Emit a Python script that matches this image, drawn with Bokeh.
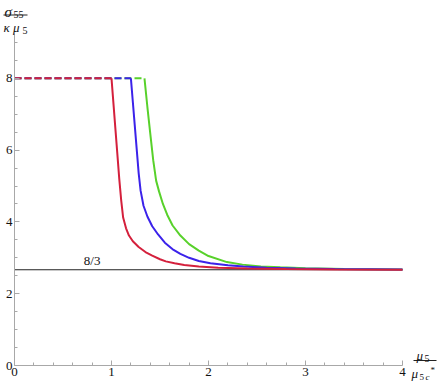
from bokeh.plotting import figure
from bokeh.models import Range1d, LinearAxis, FixedTicker, Label
from bokeh.embed import file_html
from bokeh.resources import INLINE

# ---------------- data ----------------
red_x = [1.00, 1.02, 1.04, 1.06, 1.08, 1.10, 1.12, 1.15, 1.18, 1.22, 1.28, 1.35, 1.42,
         1.50, 1.56, 1.65, 1.75, 1.90, 2.10, 2.40, 2.80, 3.30, 4.00]
red_y = [8.00, 7.30, 6.60, 5.90, 5.20, 4.60, 4.12, 3.82, 3.62, 3.46, 3.30, 3.16, 3.06,
         2.96, 2.90, 2.85, 2.80, 2.76, 2.72, 2.70, 2.685, 2.675, 2.67]

blue_x = [1.20, 1.22, 1.24, 1.26, 1.28, 1.30, 1.33, 1.37, 1.42, 1.48, 1.55, 1.64, 1.71,
          1.80, 1.90, 2.02, 2.20, 2.36, 2.60, 2.90, 3.30, 4.00]
blue_y = [8.00, 7.34, 6.68, 6.02, 5.36, 4.87, 4.45, 4.15, 3.88, 3.65, 3.42, 3.22, 3.11,
          3.00, 2.91, 2.85, 2.79, 2.76, 2.72, 2.70, 2.685, 2.675]

green_x = [1.34, 1.37, 1.40, 1.43, 1.46, 1.49, 1.53, 1.574, 1.63, 1.71, 1.80, 1.90, 2.00,
           2.19, 2.35, 2.54, 2.74, 3.00, 3.40, 4.00]
green_y = [8.00, 7.20, 6.45, 5.72, 5.15, 4.85, 4.50, 4.20, 3.90, 3.62, 3.38, 3.20, 3.05,
           2.88, 2.81, 2.76, 2.735, 2.71, 2.69, 2.675]

plateau = 8.0            # constant value below the critical point (dashed)
plateau_start = 0.0
asymptote = 8.0 / 3.0    # large-x limit
asym_label = "8/3"

x_ticks = [0, 1, 2, 3, 4]
y_ticks = [0, 2, 4, 6, 8]
x_minor = [0.2 * i for i in range(1, 21) if i % 5 != 0]
y_minor = [0.5 * i for i in range(1, 19) if i % 4 != 0]

RED, BLUE, GREEN = "#d4203c", "#3b22ea", "#58d12b"

# ---------------- geometry ----------------
W, H = 441, 384
SX0, KX = 14.0, 97.0      # screen x of data 0, px per unit
SY0, KY = 365.0, 35.9     # screen y of data 0, px per unit

def dx(sx):
    return (sx - SX0) / KX

def dy(sy):
    return (SY0 - sy) / KY

p = figure(width=W, height=H, output_backend="svg", toolbar_location=None,
           x_range=Range1d(dx(0), dx(W)), y_range=Range1d(dy(H), dy(0)),
           x_axis_location=None, y_axis_location=None, min_border=0)
p.outline_line_color = None
p.grid.visible = False
p.background_fill_color = "white"
p.border_fill_color = "white"

def style_axis(ax):
    ax.axis_line_color = "#a8a8a8"
    ax.major_tick_line_color = "#a8a8a8"
    ax.minor_tick_line_color = "#a8a8a8"
    ax.major_tick_in = 5
    ax.major_tick_out = 0
    ax.minor_tick_in = 3
    ax.minor_tick_out = 0
    ax.major_label_text_font = "Liberation Serif"
    ax.major_label_text_font_size = "13px"
    ax.major_label_text_color = "#111111"
    ax.major_label_standoff = 2

xaxis = LinearAxis(fixed_location=0, bounds=(0, 4),
                   ticker=FixedTicker(ticks=x_ticks, minor_ticks=x_minor))
style_axis(xaxis)
p.add_layout(xaxis, "below")

yaxis = LinearAxis(fixed_location=0, bounds=(0, 9.25),
                   ticker=FixedTicker(ticks=y_ticks, minor_ticks=y_minor))
style_axis(yaxis)
p.add_layout(yaxis, "left")

# asymptote line
p.line([0, 4], [asymptote, asymptote], line_color="#222222", line_width=1.2)
p.add_layout(Label(x=0.8, y=asymptote + 0.06, text=asym_label, text_align="center",
                   text_baseline="bottom", text_font="Liberation Serif",
                   text_font_size="13px", text_color="#111111"))

# dashed plateaus (green under blue under red)
for start, col in [(green_x[0], GREEN), (blue_x[0], BLUE), (red_x[0], RED)]:
    p.line([plateau_start, start], [plateau, plateau], line_color=col, line_width=2,
           line_dash="7 3")

# curves
for xs, ys, col in [(green_x, green_y, GREEN), (blue_x, blue_y, BLUE), (red_x, red_y, RED)]:
    p.line(xs, ys, line_color=col, line_width=2)

# ---------------- axis titles (fractions) ----------------
def lab(sx, sy, text, size, italic=True, align="left"):
    p.add_layout(Label(x=dx(sx), y=dy(sy), text=text, text_align=align,
                       text_baseline="alphabetic", text_font="Liberation Serif",
                       text_font_size=size, text_font_style="italic" if italic else "normal",
                       text_color="#111111"))

# y title:  sigma_55 / (kappa mu_5)
lab(4, 11, "σ", "15px")
lab(13, 14, "55", "10px", italic=False)
p.line([dx(3), dx(27)], [dy(14.5), dy(14.5)], line_color="#222222", line_width=1)
lab(3, 27, "κ μ", "13px")
lab(22, 30, "5", "10px", italic=False)

# x title:  mu_5 / mu_5c*
lab(416, 355, "μ", "13px")
lab(424, 358, "5", "10px", italic=False)
p.line([dx(413), dx(436)], [dy(360), dy(360)], line_color="#222222", line_width=1)
lab(411, 373, "μ", "13px")
lab(419, 376, "5", "9px", italic=False)
lab(425, 376, "c", "9px")
lab(430, 369, "*", "9px", italic=False)

open("out.html", "w").write(file_html(p, INLINE))
